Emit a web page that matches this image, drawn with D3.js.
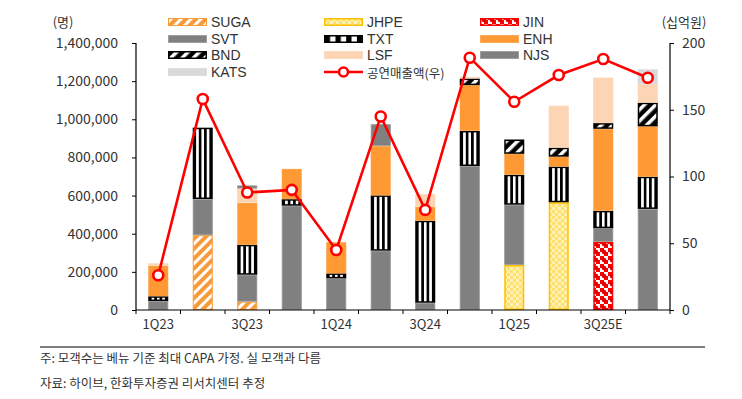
<!DOCTYPE html>
<html><head><meta charset="utf-8">
<script src="https://cdn.jsdelivr.net/npm/d3@7/dist/d3.min.js"></script>
<style>
html,body{margin:0;padding:0;background:#fff;}
svg{display:block;font-family:"Noto Sans CJK KR","Noto Sans",sans-serif;}
</style></head><body>
<svg id="c" width="742" height="399"></svg>
<script>
const categories = ["1Q23","2Q23","3Q23","4Q23","1Q24","2Q24","3Q24","4Q24","1Q25","2Q25","3Q25E","4Q25E"];
const tickLabels = ["1Q23","3Q23","1Q24","3Q24","1Q25","3Q25E"];
const SUGA = [0,392000,44000,0,0,0,0,0,0,0,0,0];
const JHPE = [0,0,0,0,0,0,0,0,236000,565000,0,0];
const JIN  = [0,0,0,0,0,0,0,0,0,0,357000,0];
const SVT  = [47000,190000,141000,547000,166000,311000,38000,755000,316000,0,72000,530000];
const TXT  = [25000,374000,157000,34000,26000,290000,430000,184000,157000,187000,91000,169000];
const ENH  = [160000,0,220000,159000,164000,259000,73000,240000,110000,52000,430000,264000];
const BND  = [0,0,0,0,0,0,0,35000,75000,47000,30000,124000];
const LSF  = [12000,0,75000,0,0,0,67000,8000,0,220000,238000,98000];
const NJS  = [0,0,16000,0,0,114000,0,0,0,0,0,0];
const KATS = [0,0,0,0,0,0,0,0,0,0,0,77000];
const revenue = [26,158,88,90,45,145,75,189,156,176,188,174];
const leftTicks = [0,200000,400000,600000,800000,1000000,1200000,1400000];
const rightTicks = [0,50,100,150,200];

const seriesNames = ["SUGA","JHPE","JIN","SVT","TXT","ENH","BND","LSF","NJS","KATS"];
const seriesData = {SUGA,JHPE,JIN,SVT,TXT,ENH,BND,LSF,NJS,KATS};

const svg = d3.select("#c");
const defs = svg.append("defs");

// patterns
const pSuga = defs.append("pattern").attr("id","pSUGA").attr("patternUnits","userSpaceOnUse")
  .attr("width",7).attr("height",7).attr("patternTransform","rotate(45)");
pSuga.append("rect").attr("width",7).attr("height",7).attr("fill","#F99A38");
pSuga.append("rect").attr("width",3).attr("height",7).attr("fill","#fff");

const pBnd = defs.append("pattern").attr("id","pBND").attr("patternUnits","userSpaceOnUse")
  .attr("width",8).attr("height",8).attr("patternTransform","rotate(45)");
pBnd.append("rect").attr("width",8).attr("height",8).attr("fill","#000");
pBnd.append("rect").attr("width",3.5).attr("height",8).attr("fill","#fff");

const pTxt = defs.append("pattern").attr("id","pTXT").attr("patternUnits","objectBoundingBox")
  .attr("patternContentUnits","objectBoundingBox").attr("width",2/7).attr("height",1);
pTxt.append("rect").attr("width",2/7).attr("height",1).attr("fill","#fff");
pTxt.append("rect").attr("width",1/7).attr("height",1).attr("fill","#000");

const pJhpe = defs.append("pattern").attr("id","pJHPE").attr("patternUnits","userSpaceOnUse")
  .attr("width",6).attr("height",6);
pJhpe.append("rect").attr("width",6).attr("height",6).attr("fill","#FFF2B3");
pJhpe.append("rect").attr("width",3).attr("height",3).attr("fill","#FFDF6E");
pJhpe.append("rect").attr("x",3).attr("y",3).attr("width",3).attr("height",3).attr("fill","#FFDF6E");

const pJin = defs.append("pattern").attr("id","pJIN").attr("patternUnits","userSpaceOnUse")
  .attr("width",8).attr("height",8);
pJin.append("rect").attr("width",8).attr("height",8).attr("fill","#fff");
pJin.append("rect").attr("width",4).attr("height",4).attr("fill","#FF0000");
pJin.append("rect").attr("x",4).attr("y",4).attr("width",4).attr("height",4).attr("fill","#FF0000");
pJin.append("circle").attr("cx",4).attr("cy",4).attr("r",2.3).attr("fill","#E00000");

const style = {
  SUGA:{fill:"url(#pSUGA)",stroke:"#F99A38",sw:1},
  JHPE:{fill:"url(#pJHPE)",stroke:"#FFC000",sw:1.5},
  JIN:{fill:"url(#pJIN)",stroke:"#FF0000",sw:1.5},
  SVT:{fill:"#808080",stroke:"#9a9a9a",sw:0.8},
  TXT:{fill:"url(#pTXT)",stroke:"#000",sw:1.5},
  ENH:{fill:"#FF9933",stroke:"#FFA54D",sw:0.5},
  BND:{fill:"url(#pBND)",stroke:"#000",sw:1.5},
  LSF:{fill:"#FCD5B5",stroke:"#FCD5B5",sw:0.5},
  NJS:{fill:"#808080",stroke:"#9a9a9a",sw:0.8},
  KATS:{fill:"#D9D9D9",stroke:"#D9D9D9",sw:0.5}
};

const x0 = 136, x1 = 670, yBot = 310, yTop = 43;
const x = d3.scaleBand().domain(categories).range([x0,x1]).paddingInner(0.55).paddingOuter(0.275);
const yL = d3.scaleLinear().domain([0,1400000]).range([yBot,yTop]);
const yR = d3.scaleLinear().domain([0,200]).range([yBot,yTop]);

const table = categories.map((c,i)=>{const o={cat:c}; seriesNames.forEach(s=>o[s]=seriesData[s][i]); return o;});
const stacked = d3.stack().keys(seriesNames)(table);

const gBars = svg.append("g");
stacked.forEach(layer=>{
  const st = style[layer.key];
  gBars.selectAll(null).data(layer.filter(d=>d[1]-d[0]>0)).enter().append("rect")
    .attr("x",d=>x(d.data.cat)+st.sw/2)
    .attr("width",x.bandwidth()-st.sw)
    .attr("y",d=>yL(d[1])+st.sw/2)
    .attr("height",d=>Math.max(0,yL(d[0])-yL(d[1])-st.sw))
    .attr("fill",st.fill).attr("stroke",st.stroke).attr("stroke-width",st.sw);
});

// axes
const fontCol = "#333";
const axL = svg.append("g").attr("transform",`translate(${x0},0)`)
  .call(d3.axisLeft(yL).tickValues(leftTicks).tickSize(4).tickPadding(14).tickFormat(d3.format(",")));
const axR = svg.append("g").attr("transform",`translate(${x1},0)`)
  .call(d3.axisRight(yR).tickValues(rightTicks).tickSize(4).tickPadding(8));
const axB = svg.append("g").attr("transform",`translate(0,${yBot})`)
  .call(d3.axisBottom(x).tickValues(tickLabels).tickSize(0).tickPadding(10));
[axL,axR,axB].forEach(a=>{
  a.select(".domain").attr("stroke","#000").attr("stroke-width",1.2);
  a.selectAll(".tick line").attr("stroke","#000");
  a.selectAll("text").attr("fill",fontCol).attr("font-family","'Noto Sans CJK KR','Noto Sans',sans-serif");
});
axL.selectAll("text").attr("font-size",14);
axR.selectAll("text").attr("font-size",14);
axB.selectAll("text").attr("font-size",13);
axL.select(".domain").attr("d",`M0,${yTop}V${yBot}`);
axR.select(".domain").attr("d",`M0,${yTop}V${yBot}`);
axB.select(".domain").attr("d",`M${x0},0H${x1}`);
// category boundary ticks
const bounds = d3.range(categories.length+1).map(i=>x0+i*x.step());
svg.append("g").selectAll("line").data(bounds).enter().append("line")
  .attr("x1",d=>d).attr("x2",d=>d).attr("y1",yBot).attr("y2",yBot+4).attr("stroke","#000");

// axis titles
svg.append("text").attr("x",63).attr("y",27).attr("text-anchor","middle").attr("font-size",13).attr("fill",fontCol).text("(명)");
svg.append("text").attr("x",684).attr("y",27).attr("text-anchor","middle").attr("font-size",13).attr("fill",fontCol).text("(십억원)");

// line
const line = d3.line().x((d,i)=>x(categories[i])+x.bandwidth()/2).y(d=>yR(d));
svg.append("path").datum(revenue).attr("d",line).attr("fill","none").attr("stroke","#FF0000").attr("stroke-width",2.6);
svg.append("g").selectAll("circle").data(revenue).enter().append("circle")
  .attr("cx",(d,i)=>x(categories[i])+x.bandwidth()/2).attr("cy",d=>yR(d)).attr("r",5)
  .attr("fill","#fff").attr("stroke","#FF0000").attr("stroke-width",2.6);

// legend
const legendRows = [["SUGA","JHPE","JIN"],["SVT","TXT","ENH"],["BND","LSF","NJS"],["KATS","LINE"]];
const colX = [168,324,480], rowY = [22,39,55,72];
const lg = svg.append("g");
legendRows.forEach((row,ri)=>row.forEach((key,ci)=>{
  const cx = colX[ci], cy = rowY[ri];
  if(key==="LINE"){
    lg.append("line").attr("x1",cx).attr("x2",cx+39).attr("y1",cy).attr("y2",cy).attr("stroke","#FF0000").attr("stroke-width",2.6);
    lg.append("circle").attr("cx",cx+19.5).attr("cy",cy).attr("r",4.5).attr("fill","#fff").attr("stroke","#FF0000").attr("stroke-width",2.6);
    lg.append("text").attr("x",cx+43).attr("y",cy+5.5).attr("font-size",12.5).attr("fill",fontCol).text("공연매출액(우)");
  } else {
    const st = style[key];
    lg.append("rect").attr("x",cx+st.sw/2).attr("y",cy-4+st.sw/2).attr("width",39-st.sw).attr("height",8-st.sw)
      .attr("fill",st.fill).attr("stroke",st.stroke).attr("stroke-width",st.sw);
    lg.append("text").attr("x",cx+43).attr("y",cy+5).attr("font-size",14)
      .attr("font-family","'Liberation Sans',Arial,sans-serif").attr("fill",fontCol).text(key);
  }
}));

// footnotes
svg.append("line").attr("x1",40).attr("x2",705).attr("y1",347).attr("y2",347).attr("stroke","#000").attr("stroke-width",1);
svg.append("text").attr("x",40).attr("y",363).attr("font-size",12.5).attr("fill",fontCol).text("주: 모객수는 베뉴 기준 최대 CAPA 가정. 실 모객과 다름");
svg.append("text").attr("x",40).attr("y",388).attr("font-size",12.5).attr("fill",fontCol).text("자료: 하이브, 한화투자증권 리서치센터 추정");
</script>
</body></html>
